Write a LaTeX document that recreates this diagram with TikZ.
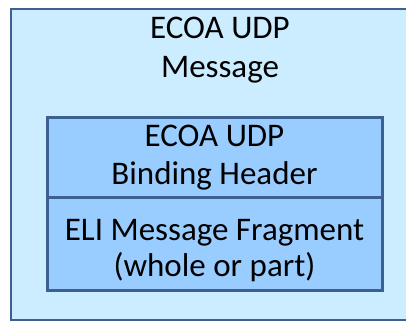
\documentclass[tikz,border=0pt]{standalone}
\usepackage{fontspec}
\setmainfont{Carlito}
\usetikzlibrary{positioning}
\definecolor{msgfill}{RGB}{204,236,255}
\definecolor{partfill}{RGB}{153,204,255}
\definecolor{edgeblue}{RGB}{60,96,143}
\tikzset{
	outerbox/.style={draw=edgeblue, fill=msgfill, line width=2pt, anchor=north west},
	partbox/.style={draw=edgeblue, fill=partfill, line width=3pt, outer sep=0pt, align=center,
		minimum width=335pt, font=\fontsize{33}{38}\selectfont},
	msgtext/.style={align=center, inner sep=0pt, font=\fontsize{33}{39}\selectfont},
	parttext/.style={align=center, inner sep=0pt, font=\fontsize{33}{36}\selectfont}
}
\begin{document}
\begin{tikzpicture}[x=1pt, y=1pt]
\useasboundingbox (0,0) rectangle (406,321);
\clip (0,0) rectangle (406,321);
\node[outerbox, minimum width=416pt, minimum height=311pt] (msg) at (10,313) {};
\node[msgtext, anchor=north] (msgtitle) at (220,303.8) {ECOA UDP\\Message};
\node[partbox, minimum height=80pt, anchor=north west] (hdr) at (47,203) {ECOA UDP\\Binding Header};
\node[partbox, minimum height=92pt, below=0pt of hdr] (frag) {};
\node[parttext] (fragtext) at ([yshift=-7pt]frag.center) {ELI Message Fragment\\(whole or part)};
\end{tikzpicture}
\end{document}
